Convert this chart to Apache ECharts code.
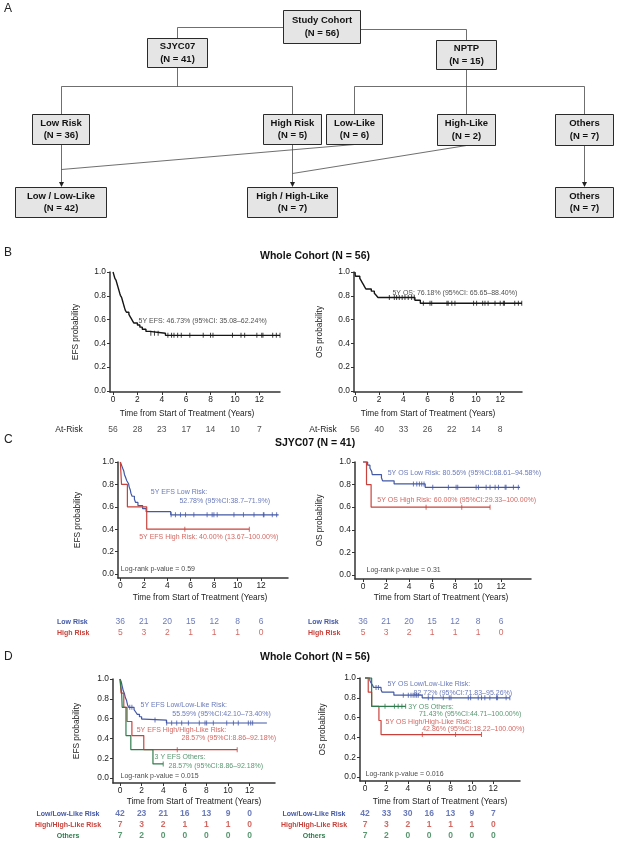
<!DOCTYPE html>
<html><head><meta charset="utf-8">
<script src="https://cdn.jsdelivr.net/npm/echarts@6/dist/echarts.min.js"></script>
<style>html,body{margin:0;padding:0;background:#fff}#c{width:618px;height:841px}</style>
</head><body><div id="c"></div>
<script>
// ================= DATA =================
const xTickValues = [0, 2, 4, 6, 8, 10, 12];
const yTickValues = [0, 0.2, 0.4, 0.6, 0.8, 1.0];
const atRiskTimes = [0, 2, 4, 6, 8, 10, 12];

// Flowchart (panel A)
const flowLabels = ['Study Cohort', 'SJYC07', 'NPTP', 'Low Risk', 'High Risk', 'Low-Like', 'High-Like', 'Others', 'Low / Low-Like', 'High / High-Like', 'Others'];
const flowCounts = [56, 41, 15, 36, 5, 6, 2, 7, 42, 7, 7];

// Panel B : whole cohort
const efsAll = [[0,1],[0.05,0.982],[0.1,0.964],[0.15,0.946],[0.25,0.929],[0.3,0.911],[0.35,0.893],[0.4,0.875],[0.45,0.857],[0.5,0.839],[0.55,0.821],[0.6,0.804],[0.7,0.786],[0.75,0.768],[0.8,0.75],[0.85,0.732],[0.9,0.714],[0.95,0.696],[1.0,0.679],[1.1,0.661],[1.3,0.643],[1.4,0.625],[1.5,0.607],[1.6,0.589],[1.7,0.571],[2.0,0.554],[2.2,0.536],[2.4,0.518],[2.7,0.5],[3.0,0.484],[4.3,0.467],[13.7,0.467]];
const efsAllCensor = [3.1,3.4,3.7,4.5,4.8,5.0,5.3,5.6,6.3,7.4,8.0,8.2,9.8,10.5,10.8,11.8,12.2,12.3,13.1,13.4,13.7];
const osAll = [[0,1],[0.02,0.982],[0.05,0.964],[0.4,0.946],[0.5,0.929],[0.6,0.911],[0.7,0.893],[0.8,0.875],[0.9,0.857],[1.35,0.839],[1.6,0.821],[1.75,0.804],[1.9,0.786],[4.95,0.762],[5.4,0.737],[13.8,0.737]];
const osAllCensor = [2.84,3.25,3.44,3.66,3.9,4.13,4.4,4.68,4.9,5.65,6.2,6.34,7.6,7.7,8.0,8.26,9.8,10.05,10.55,10.74,11.0,11.57,12.0,12.26,12.35,13.2,13.5,13.78];
const atRiskEfsAll = [56, 28, 23, 17, 14, 10, 7];
const atRiskOsAll = [56, 40, 33, 26, 22, 14, 8];

// Panel C : SJYC07
const efsLow = [[0,1],[0.1,0.972],[0.2,0.944],[0.3,0.917],[0.35,0.889],[0.45,0.861],[0.55,0.833],[0.7,0.806],[0.75,0.778],[0.85,0.75],[0.9,0.722],[1.0,0.694],[1.2,0.667],[1.3,0.639],[1.5,0.611],[1.9,0.583],[2.2,0.556],[4.3,0.528],[13.5,0.528]];
const efsLowCensor = [4.33,4.7,5.13,5.56,6.27,7.4,7.83,7.98,8.26,9.69,10.5,11.4,12.2,12.25,12.96,13.33];
const efsHigh = [[0,1],[0.1,0.8],[0.6,0.6],[2.25,0.4],[11.0,0.4]];
const efsHighCensor = [5.5, 11.0];
const osLow = [[0,1],[0.4,0.972],[0.6,0.944],[0.75,0.917],[0.8,0.889],[1.6,0.861],[1.7,0.833],[2.7,0.806],[5.4,0.776],[13.65,0.776]];
const osLowCensor = [4.38,4.67,4.9,5.1,5.3,6.06,7.42,8.09,8.23,9.83,10.03,10.7,11.04,11.48,11.77,12.35,12.43,13.07,13.5];
const osHigh = [[0,1],[0.3,0.8],[0.7,0.6],[11.04,0.6]];
const osHighCensor = [5.48, 8.58, 11.04];
const atRiskLow = [36, 21, 20, 15, 12, 8, 6];
const atRiskHigh = [5, 3, 2, 1, 1, 1, 0];

// Panel D : whole cohort by group
const efsLL = [[0,1],[0.1,0.976],[0.15,0.952],[0.2,0.929],[0.25,0.905],[0.3,0.881],[0.4,0.857],[0.45,0.833],[0.5,0.81],[0.6,0.786],[0.65,0.762],[0.7,0.738],[0.8,0.714],[1.3,0.69],[1.45,0.667],[1.6,0.643],[1.8,0.619],[2.0,0.595],[2.2,0.585],[4.3,0.556],[13.6,0.556]];
const efsLLCensor = [0.9,1.1,3.24,4.32,4.78,5.25,5.71,6.33,7.34,7.87,8.02,8.64,9.88,10.5,10.95,11.88,12.1,12.28];
const efsHH = [[0,1],[0.1,0.857],[0.35,0.714],[0.65,0.571],[1.1,0.429],[2.2,0.286],[10.85,0.286]];
const efsHHCensor = [5.3, 10.85];
const efsOth = [[0,1],[0.15,0.857],[0.2,0.714],[0.55,0.429],[1.0,0.286],[3.05,0.143],[4.0,0.143]];
const efsOthCensor = [4.0];
const osLL = [[0,1],[0.45,0.976],[0.55,0.952],[0.7,0.929],[0.8,0.905],[1.5,0.881],[1.6,0.857],[2.7,0.827],[5.35,0.8],[13.55,0.8]];
const osLLCensor = [1.03,1.25,3.58,4.05,4.3,4.5,4.67,4.83,4.98,5.92,6.33,7.32,7.88,8.04,9.66,9.88,10.59,10.9,11.21,11.68,12.3,12.4,13.2,13.55];
const osHH = [[0,1],[0.3,0.857],[0.62,0.714],[1.3,0.571],[1.5,0.429],[10.9,0.429]];
const osHHCensor = [5.36, 8.47, 10.9];
const osOth = [[0,1],[0.62,0.714],[3.8,0.714]];
const osOthCensor = [1.87, 2.75, 3.1, 3.45, 3.8];
const atRiskEfsLL = [42, 23, 21, 16, 13, 9, 0];
const atRiskOsLL = [42, 33, 30, 16, 13, 9, 7];
const atRiskHH = [7, 3, 2, 1, 1, 1, 0];
const atRiskOth = [7, 2, 0, 0, 0, 0, 0];

// ================= STYLE / LAYOUT =================
const FONT = 'Liberation Sans, Arial, Helvetica, sans-serif';
const BLACK = '#151515', DARK = '#222', AX = '#333';
const BLUE = '#4358a6', RED = '#c8423b', GREEN = '#2e7c4c';
const XNAME = 'Time from Start of Treatment (Years)';

const panels = [
  { grid:{left:110, top:272, width:170, height:120}, x:[-0.25,13.7], yMin:-0.01, yName:'EFS probability', yNameGap:30, xNameGap:18, xShift:-8,
    curves:[{s:efsAll, c:efsAllCensor, color:BLACK, w:1.4}],
    notes:[{x:2.05, y:0.583, t:'5Y EFS: 46.73% (95%CI: 35.08–62.24%)', color:DARK}],
    risk:{top:424, height:12, rows:['At-Risk'], counts:[atRiskEfsAll], colors:[DARK], align:'center', margin:41, bold:false, size:8.5, numBold:false}},
  { grid:{left:354, top:272, width:168, height:120}, x:[-0.08,13.8], yMin:-0.01, yName:'OS probability', yNameGap:30, xNameGap:18, xShift:-10,
    curves:[{s:osAll, c:osAllCensor, color:BLACK, w:1.4}],
    notes:[{x:3.05, y:0.82, t:'5Y OS: 76.18% (95%CI: 65.65–88.40%)', color:DARK}],
    risk:{top:424, height:12, rows:['At-Risk'], counts:[atRiskOsAll], colors:[DARK], align:'center', margin:31, bold:false, size:8.5, numBold:false}},
  { grid:{left:118, top:462, width:170, height:116}, x:[-0.2,14.3], yMin:-0.036, yName:'EFS probability', yNameGap:36, xNameGap:16, xShift:-3,
    curves:[{s:efsLow, c:efsLowCensor, color:BLUE, w:1.2},{s:efsHigh, c:efsHighCensor, color:RED, w:1.2}],
    notes:[{x:2.56, y:0.73, t:'5Y EFS Low Risk:', color:BLUE},{x:5.0, y:0.65, t:'52.78% (95%CI:38.7–71.9%)', color:BLUE},
           {x:1.56, y:0.33, t:'5Y EFS High Risk: 40.00% (13.67–100.00%)', color:RED},{x:0, y:0.045, t:'Log-rank p-value = 0.59', color:BLACK}],
    risk:{top:616.5, height:22, rows:['Low Risk','High Risk'], counts:[atRiskLow, atRiskHigh], colors:[BLUE, RED], align:'left', margin:61, bold:true, size:7, numBold:false}},
  { grid:{left:355, top:462, width:176, height:117}, x:[-0.7,14.6], yMin:-0.036, yName:'OS probability', yNameGap:31, xNameGap:15, xShift:-2,
    curves:[{s:osLow, c:osLowCensor, color:BLUE, w:1.2},{s:osHigh, c:osHighCensor, color:RED, w:1.2}],
    notes:[{x:2.1, y:0.9, t:'5Y OS Low Risk: 80.56% (95%CI:68.61–94.58%)', color:BLUE},
           {x:1.2, y:0.66, t:'5Y OS High Risk: 60.00% (95%CI:29.33–100.00%)', color:RED},{x:0.26, y:0.045, t:'Log-rank p-value = 0.31', color:BLACK}],
    risk:{top:616.5, height:22, rows:['Low Risk','High Risk'], counts:[atRiskLow, atRiskHigh], colors:[BLUE, RED], align:'left', margin:47, bold:true, size:7, numBold:false}},
  { grid:{left:113, top:679, width:162, height:104}, x:[-0.65,14.35], yMin:-0.05, yName:'EFS probability', yNameGap:32, xNameGap:15, xShift:0,
    curves:[{s:efsLL, c:efsLLCensor, color:BLUE, w:1.2},{s:efsHH, c:efsHHCensor, color:RED, w:1.2},{s:efsOth, c:efsOthCensor, color:GREEN, w:1.2}],
    notes:[{x:1.85, y:0.735, t:'5Y EFS Low/Low-Like Risk:', color:BLUE},{x:4.8, y:0.65, t:'55.59% (95%CI:42.10–73.40%)', color:BLUE},
           {x:1.5, y:0.48, t:'5Y EFS High/High-Like Risk:', color:RED},{x:5.65, y:0.40, t:'28.57% (95%CI:8.86–92.18%)', color:RED},
           {x:3.15, y:0.21, t:'3 Y EFS Others:', color:GREEN},{x:4.45, y:0.12, t:'28.57% (95%CI:8.86–92.18%)', color:GREEN},
           {x:0, y:0.02, t:'Log-rank p-value = 0.015', color:BLACK}],
    risk:{top:808.5, height:34.5, rows:['Low/Low-Like Risk','High/High-Like Risk','Others'], counts:[atRiskEfsLL, atRiskHH, atRiskOth], colors:[BLUE, RED, GREEN], align:'center', margin:45, bold:true, size:7, numBold:true}},
  { grid:{left:360, top:678, width:160, height:103}, x:[-0.47,14.5], yMin:-0.04, yName:'OS probability', yNameGap:33, xNameGap:17, xShift:0,
    curves:[{s:osLL, c:osLLCensor, color:BLUE, w:1.2},{s:osHH, c:osHHCensor, color:RED, w:1.2},{s:osOth, c:osOthCensor, color:GREEN, w:1.2}],
    notes:[{x:2.05, y:0.935, t:'5Y OS Low/Low-Like Risk:', color:BLUE},{x:4.5, y:0.85, t:'82.72% (95%CI:71.83–95.26%)', color:BLUE},
           {x:4.0, y:0.705, t:'3Y OS Others:', color:GREEN},{x:5.0, y:0.64, t:'71.43% (95%CI:44.71–100.00%)', color:GREEN},
           {x:1.87, y:0.555, t:'5Y OS High/High-Like Risk:', color:RED},{x:5.3, y:0.48, t:'42.86% (95%CI:18.22–100.00%)', color:RED},
           {x:0, y:0.035, t:'Log-rank p-value = 0.016', color:BLACK}],
    risk:{top:808.5, height:34.5, rows:['Low/Low-Like Risk','High/High-Like Risk','Others'], counts:[atRiskOsLL, atRiskHH, atRiskOth], colors:[BLUE, RED, GREEN], align:'center', margin:46, bold:true, size:7, numBold:true}}
];

// flowchart layout [x, y, w, h] for each node, same order as flowLabels
const flowBoxes = [[283,10,77,33],[147,38,60,29],[436,40,60,29],[32,114,57,30],[263,114,58,30],[326,114,56,30],[437,114,58,31],[555,114,58,31],[15,187,91,30],[247,187,90,30],[555,187,58,30]];
const flowLines = [
  [[283,27],[177,27],[177,38]], [[360,29],[466,29],[466,40]],
  [[177,67],[177,86]], [[61,86],[292,86]], [[61,86],[61,114]], [[292,86],[292,114]],
  [[466,69],[466,114]], [[354,86],[584,86]], [[354,86],[354,114]], [[584,86],[584,114]],
  [[354,144],[61,169]], [[466,145],[292,173]]
];
const flowArrows = [[[61,144],[61,187]], [[292,144],[292,187]], [[584,145],[584,187]]];

// ================= BUILD =================
function survAt(steps, t) { let v = steps[0][1]; for (const p of steps) { if (p[0] <= t) v = p[1]; else break; } return v; }

const grids = [], xAxes = [], yAxes = [], series = [];
panels.forEach((p, i) => {
  const gi = grids.length;
  grids.push(Object.assign({containLabel:false}, p.grid));
  xAxes.push({gridIndex:gi, type:'value', min:p.x[0], max:p.x[1],
    axisLine:{show:true, onZero:false, lineStyle:{color:AX, width:1.5}},
    axisTick:{show:true, customValues:xTickValues, length:3, lineStyle:{color:AX, width:1}},
    axisLabel:{customValues:xTickValues, fontSize:8.4, color:DARK, margin:4, fontFamily:FONT},
    splitLine:{show:false},
    name:XNAME, nameLocation:'middle', nameGap:p.xNameGap,
    nameTextStyle:{fontSize:8.3, color:DARK, fontFamily:FONT, padding: p.xShift < 0 ? [0, -2*p.xShift, 0, 0] : [0, 0, 0, 2*p.xShift]}});
  yAxes.push({gridIndex:gi, type:'value', min:p.yMin, max:1,
    axisLine:{show:true, onZero:false, lineStyle:{color:AX, width:1.5}},
    axisTick:{show:true, customValues:yTickValues, length:3, lineStyle:{color:AX, width:1}},
    axisLabel:{customValues:yTickValues, formatter:v => v.toFixed(1), fontSize:8.4, color:DARK, margin:4, fontFamily:FONT},
    splitLine:{show:false},
    name:p.yName, nameLocation:'middle', nameRotate:90, nameGap:p.yNameGap,
    nameTextStyle:{fontSize:8.3, color:DARK, fontFamily:FONT}});
  p.curves.forEach(c => {
    series.push({type:'line', xAxisIndex:gi, yAxisIndex:gi, step:'end', data:c.s, showSymbol:false, symbol:'none',
      lineStyle:{color:c.color, width:c.w}, silent:true, clip:false, z:3});
    series.push({type:'scatter', xAxisIndex:gi, yAxisIndex:gi, data:c.c.map(t => [t, survAt(c.s, t)]),
      symbol:'rect', symbolSize:[1, 5], itemStyle:{color:c.color}, silent:true, z:4});
  });
  series.push({type:'scatter', xAxisIndex:gi, yAxisIndex:gi, symbolSize:1, itemStyle:{color:'rgba(0,0,0,0)'}, silent:true, z:5,
    label:{show:true, position:'right', distance:0, fontSize:7, fontFamily:FONT},
    data:p.notes.map(n => ({value:[n.x, n.y], label:{formatter:n.t, color:n.color}}))});

  // at-risk table grid
  const r = p.risk, ri = grids.length;
  grids.push({left:p.grid.left, width:p.grid.width, top:r.top, height:r.height, containLabel:false});
  xAxes.push({gridIndex:ri, type:'value', min:p.x[0], max:p.x[1], show:false});
  yAxes.push({gridIndex:ri, type:'category', data:r.rows, inverse:true,
    axisLine:{show:false}, axisTick:{show:false}, splitLine:{show:false},
    axisLabel:{align:r.align, margin:r.margin, fontSize:r.size, fontWeight:r.bold ? 'bold' : 'normal', fontFamily:FONT,
      color:(v) => r.colors[r.rows.indexOf(v)]}});
  r.rows.forEach((row, k) => {
    series.push({type:'scatter', xAxisIndex:ri, yAxisIndex:ri, symbolSize:1, itemStyle:{color:'rgba(0,0,0,0)'}, silent:true,
      label:{show:true, position:'inside', fontSize:8.5, fontWeight:r.numBold ? 'bold' : 'normal', color:r.colors[k], fontFamily:FONT, formatter:q => q.value[2]},
      data:atRiskTimes.map((t, j) => [t, k, r.counts[k][j]])});
  });
});

// graphic: flowchart + panel labels + titles
const graphic = [];
flowLines.forEach(pts => graphic.push({type:'polyline', shape:{points:pts.map(q => [q[0] + 0.5, q[1] + 0.5])}, style:{stroke:'#4a4a4a', lineWidth:0.8, fill:null}, silent:true}));
flowArrows.forEach(a => {
  const [s, e] = a;
  graphic.push({type:'polyline', shape:{points:[[s[0] + 0.5, s[1]], [e[0] + 0.5, e[1] - 4]]}, style:{stroke:'#4a4a4a', lineWidth:0.8, fill:null}, silent:true});
  graphic.push({type:'polygon', shape:{points:[[e[0] - 2, e[1] - 5], [e[0] + 3, e[1] - 5], [e[0] + 0.5, e[1]]]}, style:{fill:'#222'}, silent:true});
});
flowLabels.forEach((lab, i) => {
  const [x, y, w, h] = flowBoxes[i];
  graphic.push({type:'rect', shape:{x:x+0.5, y:y+0.5, width:w, height:h}, style:{fill:'#e5e5e5', stroke:'#2a2a2a', lineWidth:1}, silent:true});
  graphic.push({type:'text', x:x + w/2 + 0.5, y:y + h/2 - 6, style:{text:lab, font:'bold 9.5px ' + FONT, fill:'#111', textAlign:'center', textVerticalAlign:'middle'}, silent:true});
  graphic.push({type:'text', x:x + w/2 + 0.5, y:y + h/2 + 6.5, style:{text:'(N = ' + flowCounts[i] + ')', font:'bold 9.5px ' + FONT, fill:'#111', textAlign:'center', textVerticalAlign:'middle'}, silent:true});
});
[['A', 9], ['B', 253], ['C', 440], ['D', 657]].forEach(([t, y]) =>
  graphic.push({type:'text', x:4, y:y, style:{text:t, font:'12px ' + FONT, fill:'#222', textAlign:'left', textVerticalAlign:'middle'}, silent:true}));
[['Whole Cohort (N = 56)', 256], ['SJYC07 (N = 41)', 443], ['Whole Cohort (N = 56)', 657]].forEach(([t, y]) =>
  graphic.push({type:'text', x:315, y:y, style:{text:t, font:'bold 10.5px ' + FONT, fill:'#111', textAlign:'center', textVerticalAlign:'middle'}, silent:true}));

const chart = echarts.init(document.getElementById('c'), null, {renderer:'canvas'});
chart.setOption({animation:false, backgroundColor:'#fff', grid:grids, xAxis:xAxes, yAxis:yAxes, series:series, graphic:graphic});
</script></body></html>
